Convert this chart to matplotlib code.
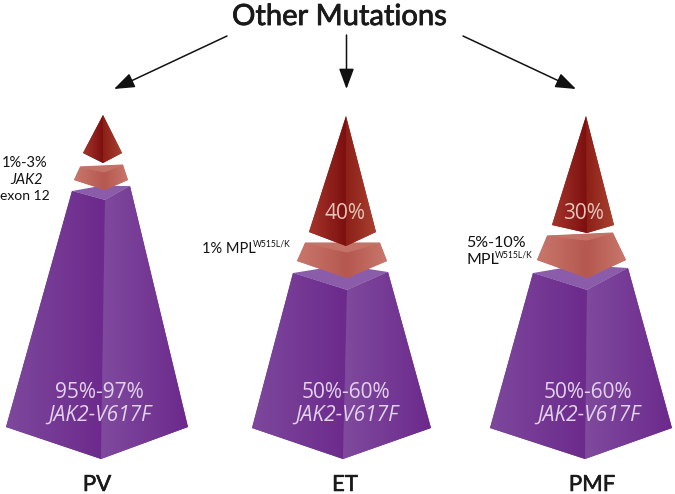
import numpy as np
import matplotlib
matplotlib.use("Agg")
import matplotlib.pyplot as plt
import matplotlib.patheffects as pe
from matplotlib.colors import LinearSegmentedColormap
from matplotlib.patches import Polygon, FancyArrowPatch

plt.rcParams['font.family'] = ['Lato', 'DejaVu Sans']
wide = ['Open Sans', 'DejaVu Sans']

names = ['PV', 'ET', 'PMF']
name_x = [97, 345, 592]
jak2_labels = ['95%-97%', '50%-60%', '50%-60%']
jak2_x = [99, 346, 588]
tip_labels = ['', '40%', '30%']
tip_x = [0, 345, 584]

# outlines, in pixels
red_tip = [(103, 115), (346, 116), (586, 116)]
red_left = [(83, 153), (309, 232), (552, 225)]
red_bottom = [(103, 163), (346, 246), (587, 233)]
red_right = [(122, 153), (376, 232), (614, 225)]

salmon_tl = [(80, 167), (305, 243), (547, 236)]
salmon_bl = [(74, 180), (297, 261), (537, 260)]
salmon_b = [(105, 190), (347, 278), (587, 278)]
salmon_br = [(128, 180), (387, 261), (626, 260)]
salmon_tr = [(123, 165), (380, 243), (613, 233)]
salmon_c = [(104, 172), (347, 252), (587, 240)]

purple_tl = [(72, 191), (293, 273), (533, 273)]
purple_back = [(100, 186), (343, 265), (580, 265)]
purple_tr = [(130, 186), (388, 272), (628, 268)]
purple_c = [(105, 200), (347, 290), (587, 290)]
purple_bl = [(6, 427), (252, 428), (490, 428)]
purple_b = [(101, 459), (343, 459), (585, 459)]
purple_br = [(188, 427), (431, 428), (672, 428)]

arrows = [((227, 36), (114, 89)), ((346.5, 35), (346.5, 89)), ((463, 36), (576, 89))]

red_l = LinearSegmentedColormap.from_list('rl', ['#a5352b', '#7d1010'])
red_r = LinearSegmentedColormap.from_list('rr', ['#8c1f18', '#a8412f'])
salmon_l = LinearSegmentedColormap.from_list('sl', ['#c9776c', '#b5584f'])
salmon_r = LinearSegmentedColormap.from_list('sr', ['#b5584f', '#c9776c'])
purple_l = LinearSegmentedColormap.from_list('pl', ['#7d489c', '#6c2a8c'])
purple_r = LinearSegmentedColormap.from_list('pr', ['#7f4a9e', '#6c2a8c'])

fig = plt.figure(figsize=(6.75, 4.94), dpi=100)
ax = fig.add_axes([0, 0, 1, 1])


def face(pts, cmap, z):
    xs = [p[0] for p in pts]
    ys = [p[1] for p in pts]
    im = ax.imshow(np.linspace(0, 1, 64).reshape(1, -1), cmap=cmap, aspect='auto',
                   extent=(min(xs), max(xs), max(ys), min(ys)), zorder=z,
                   interpolation='bilinear')
    poly = Polygon(pts, closed=True, transform=ax.transData, fc='none', ec='none')
    ax.add_patch(poly)
    im.set_clip_path(poly)


for i in range(3):
    # flat shapes underneath so no white seam shows along the ridges
    ax.add_patch(Polygon([purple_tl[i], purple_c[i], purple_tr[i], purple_br[i], purple_b[i], purple_bl[i]],
                         fc='#74388f', ec='none', zorder=1))
    face([purple_tl[i], purple_c[i], purple_b[i], purple_bl[i]], purple_l, 2)
    face([purple_tr[i], purple_c[i], purple_b[i], purple_br[i]], purple_r, 2)
    ax.add_patch(Polygon([purple_tl[i], purple_back[i], purple_tr[i], purple_c[i]], fc='#8a5ca9', ec='none', zorder=3))

    ax.add_patch(Polygon([salmon_tl[i], salmon_tr[i], salmon_br[i], salmon_b[i], salmon_bl[i]],
                         fc='#bd665c', ec='none', zorder=4))
    face([salmon_tl[i], salmon_c[i], salmon_b[i], salmon_bl[i]], salmon_l, 5)
    face([salmon_tr[i], salmon_c[i], salmon_b[i], salmon_br[i]], salmon_r, 5)
    ax.add_patch(Polygon([salmon_tl[i], salmon_tr[i], salmon_c[i]], fc='#c27266', ec='#c27266', lw=0.8, zorder=6))

    ax.add_patch(Polygon([red_tip[i], red_left[i], red_bottom[i], red_right[i]], fc='#8c1f18', ec='none', zorder=7))
    face([red_tip[i], red_bottom[i], red_left[i]], red_l, 8)
    face([red_tip[i], red_bottom[i], red_right[i]], red_r, 8)

ax.set_xlim(0, 675)
ax.set_ylim(494, 0)
ax.axis('off')

for start, end in arrows:
    ax.add_patch(FancyArrowPatch(start, end, arrowstyle='-|>,head_length=1.25,head_width=0.46', mutation_scale=10,
                                 lw=1.1, color='#111111', shrinkA=0, shrinkB=0, zorder=4))

ax.text(339.5, 25, 'Other Mutations', ha='center', va='baseline', fontsize=21, color='#1a1a1a',
        path_effects=[pe.withStroke(linewidth=0.6, foreground='#1a1a1a')])

for i in range(3):
    ax.text(name_x[i], 491, names[i], ha='center', va='baseline', fontsize=16, color='#1a1a1a',
            path_effects=[pe.withStroke(linewidth=0.4, foreground='#1a1a1a')])
    ax.text(jak2_x[i], 392, jak2_labels[i], ha='center', va='center', fontsize=15,
            family=wide, color='#e2d3ec', zorder=9)
    ax.text(jak2_x[i] + 1, 415, 'JAK2-V617F', ha='center', va='center', fontsize=15, style='italic',
            family=wide, color='#e2d3ec', zorder=9)
    if tip_labels[i]:
        ax.text(tip_x[i], 213, tip_labels[i], ha='center', va='center', fontsize=15,
                family=wide, color='#e6c4b8', zorder=9)

ax.text(25, 163, '1%-3%', ha='center', va='center', fontsize=10.5, color='#111111')
ax.text(27, 180, 'JAK2', ha='center', va='center', fontsize=10.5, style='italic', color='#111111')
ax.text(25, 196, 'exon 12', ha='center', va='center', fontsize=10, color='#111111')

ax.text(202, 249, '1% MPL', ha='left', va='center', fontsize=10.5, color='#111111')
ax.text(253, 244, 'W515L/K', ha='left', va='center', fontsize=6.2, color='#111111')
ax.text(496, 243, '5%-10%', ha='center', va='center', fontsize=11.5, color='#111111')
ax.text(466, 260, 'MPL', ha='left', va='center', fontsize=11.5, color='#111111')
ax.text(495, 255, 'W515L/K', ha='left', va='center', fontsize=6.2, color='#111111')

fig.savefig('out.png', dpi=100)
